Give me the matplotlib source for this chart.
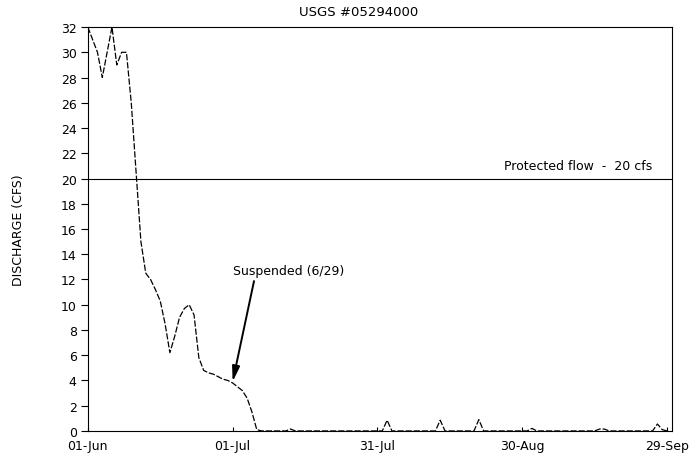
from matplotlib import pyplot as plt
import numpy as np

plt.rc('font', family='DejaVu Sans', size=9)

# daily discharge, 01-Jun (day 0) to 29-Sep (day 120)
flow_head = [32, 31, 30, 28, 30, 32, 29, 30, 30, 26,
             20.5, 15, 12.5, 12, 11.2, 10.3, 8.5, 6.2, 7.5, 9,
             9.7, 10, 9.2, 5.8, 4.8, 4.6, 4.5, 4.3, 4.1, 4.0,
             3.8, 3.5, 3.2, 2.6, 1.5, 0.1]
bumps = {42: 0.15, 62: 0.85, 73: 0.85, 81: 0.9, 92: 0.2,
         106: 0.15, 107: 0.15, 118: 0.55, 119: 0.1}
flow = flow_head + [bumps.get(d, 0.0) for d in range(len(flow_head), 121)]
days = np.arange(len(flow))

tick_days = [0, 30, 60, 90, 120]
tick_labels = ['01-Jun', '01-Jul', '31-Jul', '30-Aug', '29-Sep']
protected = 20

fig = plt.figure(figsize=(6.97, 4.6), dpi=100)
ax = fig.add_axes([0.126, 0.061, 0.838, 0.878])

ax.plot(days, flow, color='black', lw=0.9, ls=(0, (5, 1.5)))
ax.axhline(protected, color='black', lw=0.8)
ax.text(117, protected + 0.5, 'Protected flow  -  20 cfs', ha='right', va='bottom', fontsize=9)

ax.annotate('Suspended (6/29)', xy=(30, 3.9), xytext=(30, 12.2),
            fontsize=9, ha='left', va='bottom',
            arrowprops=dict(arrowstyle='-|>,head_length=1.0,head_width=0.25',
                            color='black', lw=1.4, shrinkA=1, shrinkB=0,
                            relpos=(0.2, 0)))

ax.set_xlim(0, 121)
ax.set_ylim(0, 32)
ax.set_yticks(np.arange(0, 33, 2))
ax.set_xticks(tick_days)
ax.set_xticklabels(tick_labels)
ax.tick_params(axis='y', direction='out', length=5, width=0.8, pad=3)
ax.tick_params(axis='x', direction='in', length=3, width=0.8, pad=6)
for s in ax.spines.values():
    s.set_linewidth(0.8)

ax.set_ylabel('DISCHARGE (CFS)', fontsize=9, labelpad=26)
fig.text(0.514, 0.972, 'USGS #05294000', ha='center', va='center', fontsize=9.5)

fig.savefig('out.png', dpi=100)
